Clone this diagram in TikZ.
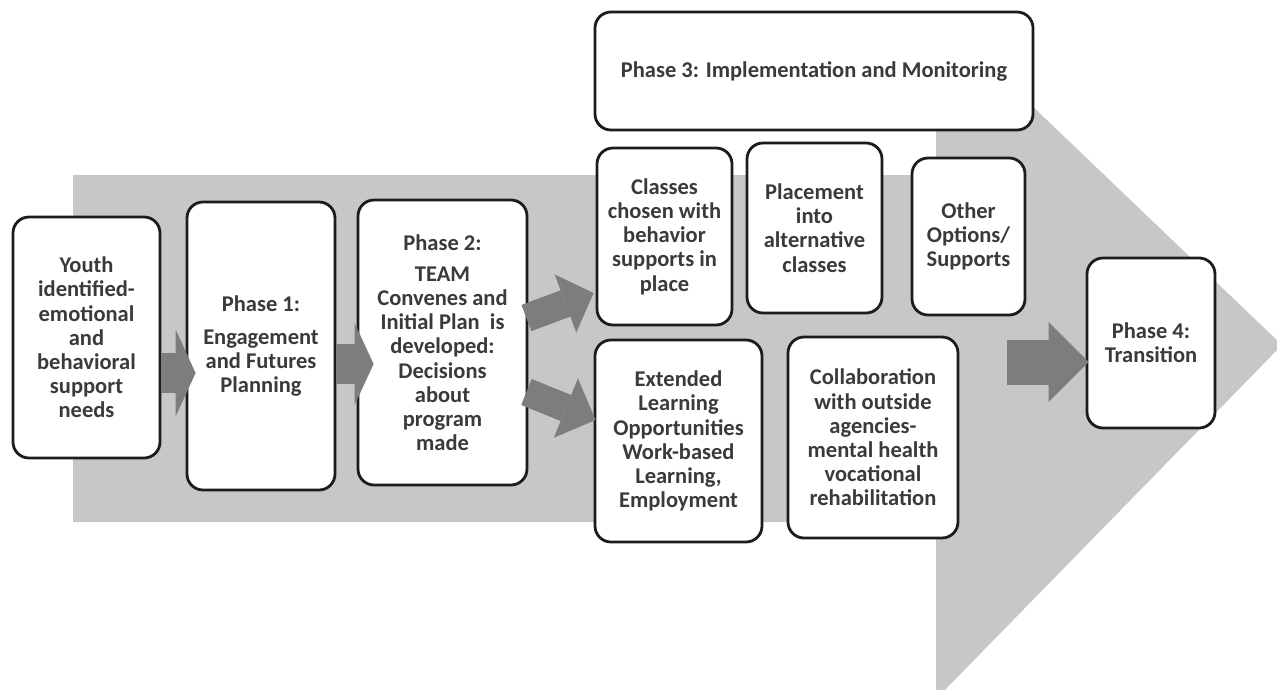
\documentclass[tikz,border=0pt]{standalone}
\usepackage{fontspec}
\setmainfont{Carlito}
\usetikzlibrary{arrows.meta,calc}
\definecolor{bgarrow}{RGB}{198,199,201}
\definecolor{blockgray}{RGB}{125,125,125}
\definecolor{txt}{RGB}{58,58,58}
\definecolor{edge}{RGB}{28,28,28}
\begin{document}
\begin{tikzpicture}[x=1pt,y=-1pt,
  stage/.style={draw=edge,line width=2.8pt,rounded corners=16pt,fill=white,text=txt,
    font=\bfseries\fontsize{22.5}{24.2}\selectfont,align=center,inner sep=0pt},
  barrow/.style n args={3}{draw=blockgray,line width=#1,
    -{Triangle[length=#3,width=#2,line width=0pt]}}]
\useasboundingbox (0,0) rectangle (1277,689);
% big background arrow
\fill[bgarrow] (73,175) -- (936,175) -- (936,14) -- (1282,345) -- (936,699)
  -- (936,522) -- (73,522) -- cycle;
% stages
\node[stage,minimum width=147pt,minimum height=241pt] (b1) at (86.5,337.5)
  {Youth\\identified-\\emotional\\and\\behavioral\\support\\needs};
\node[stage,minimum width=148pt,minimum height=288pt] (b2) at (261,346)
  {Phase 1:\\[9pt]Engagement\\and Futures\\Planning};
\node[stage,minimum width=169pt,minimum height=285pt] (b3) at (442.5,342.5)
  {Phase 2:\\[7pt]TEAM\\Convenes and\\Initial Plan~ is\\developed:\\Decisions\\about\\program\\made};
\node[stage,minimum width=438pt,minimum height=118pt] (p3) at (814,71)
  {Phase 3: Implementation and Monitoring};
\node[stage,minimum width=135pt,minimum height=177pt] (cl) at (664.5,236.5)
  {Classes\\chosen with\\behavior\\supports in\\place};
\node[stage,minimum width=135pt,minimum height=170pt] (pl) at (814.5,228)
  {Placement\\into\\alternative\\classes};
\node[stage,minimum width=113pt,minimum height=157pt] (ot) at (968.5,236.5)
  {Other\\Options/\\Supports};
\node[stage,minimum width=167pt,minimum height=202pt] (ex) at (678.5,441)
  {Extended\\Learning\\Opportunities\\Work-based\\Learning,\\Employment};
\node[stage,minimum width=170pt,minimum height=201pt] (co) at (873,437.5)
  {Collaboration\\with outside\\agencies-\\mental health\\vocational\\rehabilitation};
\node[stage,minimum width=128pt,minimum height=170pt] (p4) at (1151,343)
  {Phase 4:\\Transition};
% block arrows
\coordinate (a5) at (1007,362);
\draw[barrow={40pt}{87pt}{20pt}] ($(b1.east)+(0,35.5)$) -- ($(b2.west)+(10,27)$);
\draw[barrow={40pt}{82pt}{19pt}] ($(b2.east)+(0,18)$) -- ($(b3.west)+(17,21.5)$);
\draw[barrow={28pt}{62pt}{30pt}] ($(b3.east)+(-2,-24.5)$) -- ($(cl.west)+(-2,56.5)$);
\draw[barrow={28pt}{64pt}{32pt}] ($(b3.east)+(-2,49.5)$) -- ($(ex.west)+(2,-21)$);
\draw[barrow={45pt}{80pt}{40pt}] (a5) -- ($(p4.west)+(3,19)$);
\end{tikzpicture}
\end{document}
